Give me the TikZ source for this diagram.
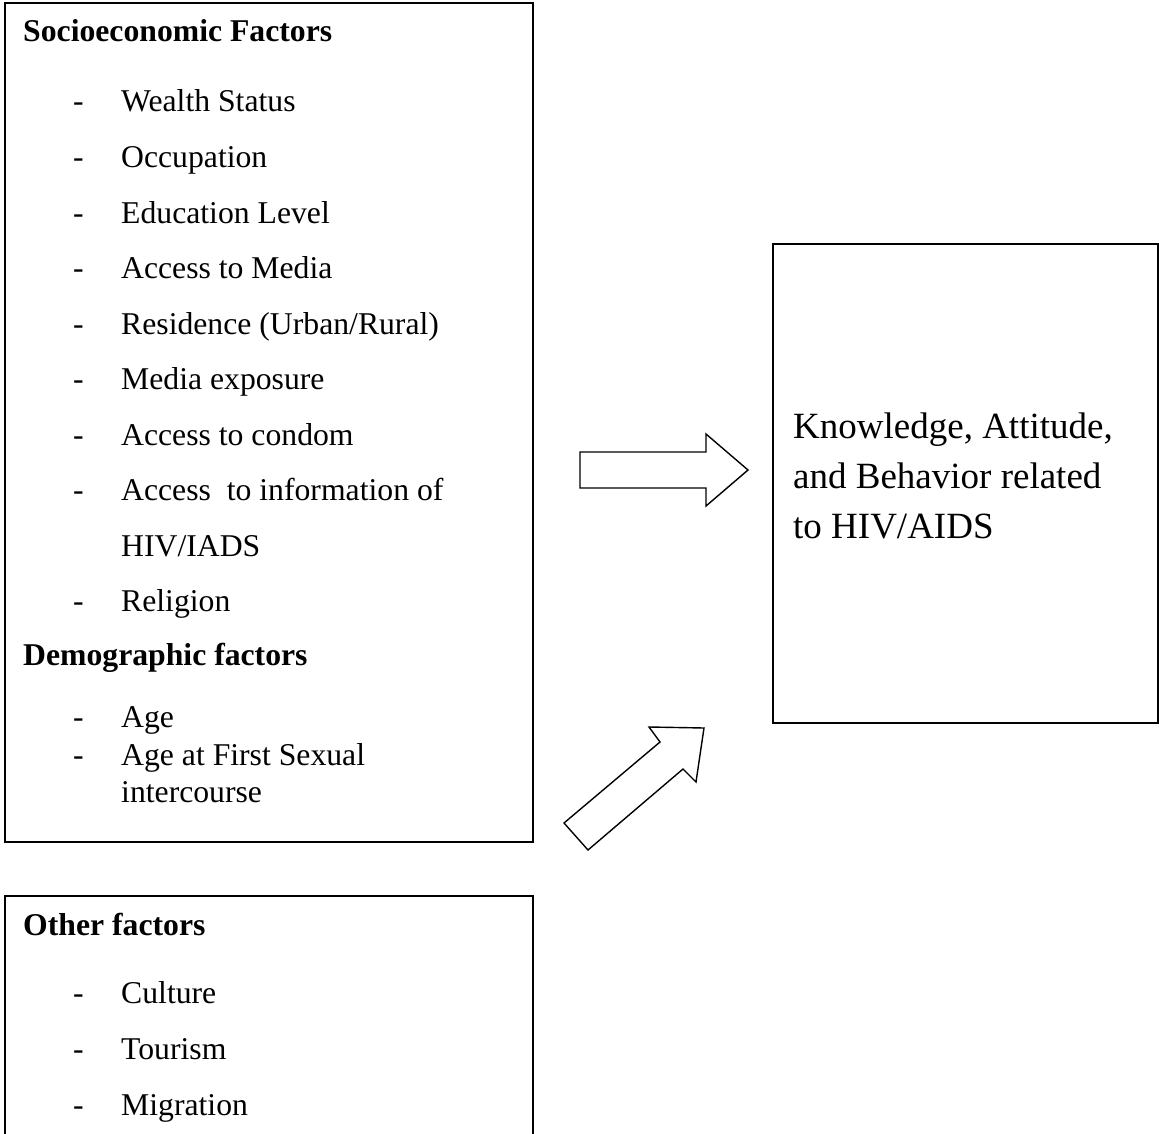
\documentclass[tikz,border=0pt]{standalone}
\usepackage{fontspec}
\setmainfont{Liberation Serif}
\begin{document}
\begin{tikzpicture}[x=1pt,y=-1pt,
  box/.style={draw, line width=1.8pt, inner sep=0pt, anchor=north west},
  blk/.style={draw, line width=1.4pt, line join=miter},
  txt/.style={anchor=base west, inner sep=0pt, font=\fontsize{31.7}{38}\selectfont},
  hd/.style={anchor=base west, inner sep=0pt, font=\fontsize{31.7}{38}\selectfont\bfseries},
  big/.style={anchor=base west, inner sep=0pt, font=\fontsize{37}{44}\selectfont}]
\clip (0,0) rectangle (1159,1134);
\fill[white] (0,0) rectangle (1159,1134);
% boxes
\node[box, minimum width=528pt, minimum height=839pt] (socio) at (4,2) {};
\node[box, minimum width=528pt, minimum height=300pt] (other) at (4,895) {};
\node[box, minimum width=385pt, minimum height=479pt] (kab) at (772,243) {};
% socioeconomic
\node[hd] (h1) at (23,42) {Socioeconomic Factors};
\node[txt] (d1) at (73,112) {-}; \node[txt] (t1) at (121,112) {Wealth Status};
\node[txt] (d2) at (73,167.5) {-}; \node[txt] (t2) at (121,167.5) {Occupation};
\node[txt] (d3) at (73,223) {-}; \node[txt] (t3) at (121,223) {Education Level};
\node[txt] (d4) at (73,278.5) {-}; \node[txt] (t4) at (121,278.5) {Access to Media};
\node[txt] (d5) at (73,334) {-}; \node[txt] (t5) at (121,334) {Residence (Urban/Rural)};
\node[txt] (d6) at (73,389.5) {-}; \node[txt] (t6) at (121,389.5) {Media exposure};
\node[txt] (d7) at (73,445) {-}; \node[txt] (t7) at (121,445) {Access to condom};
\node[txt] (d8) at (73,500.5) {-}; \node[txt] (t8) at (121,500.5) {Access\ \ to information of};
\node[txt] (t8b) at (121,556) {HIV/IADS};
\node[txt] (d9) at (73,611.5) {-}; \node[txt] (t9) at (121,611.5) {Religion};
% demographic
\node[hd] (h2) at (23,665) {Demographic factors};
\node[txt] (d10) at (73,727) {-}; \node[txt] (t10) at (121,727) {Age};
\node[txt] (d11) at (73,765) {-}; \node[txt] (t11) at (121,765) {Age at First Sexual};
\node[txt] (t11b) at (121,802) {intercourse};
% other
\node[hd] (h3) at (23,935) {Other factors};
\node[txt] (d12) at (73,1003) {-}; \node[txt] (t12) at (121,1003) {Culture};
\node[txt] (d13) at (73,1059) {-}; \node[txt] (t13) at (121,1059) {Tourism};
\node[txt] (d14) at (73,1115) {-}; \node[txt] (t14) at (121,1115) {Migration};
% outcome
\node[big] (k1) at (793,438) {Knowledge, Attitude,};
\node[big] (k2) at (793,488) {and Behavior related};
\node[big] (k3) at (793,538) {to HIV/AIDS};
% block arrows
\draw[blk] (580,452) -- (706,452) -- (706,434) -- (748,470) -- (706,506) -- (706,488) -- (580,488) -- cycle;
\draw[blk] (564,823) -- (660,742) -- (649,727) -- (704,728) -- (696,782) -- (683,769) -- (588,850) -- cycle;
\end{tikzpicture}
\end{document}
